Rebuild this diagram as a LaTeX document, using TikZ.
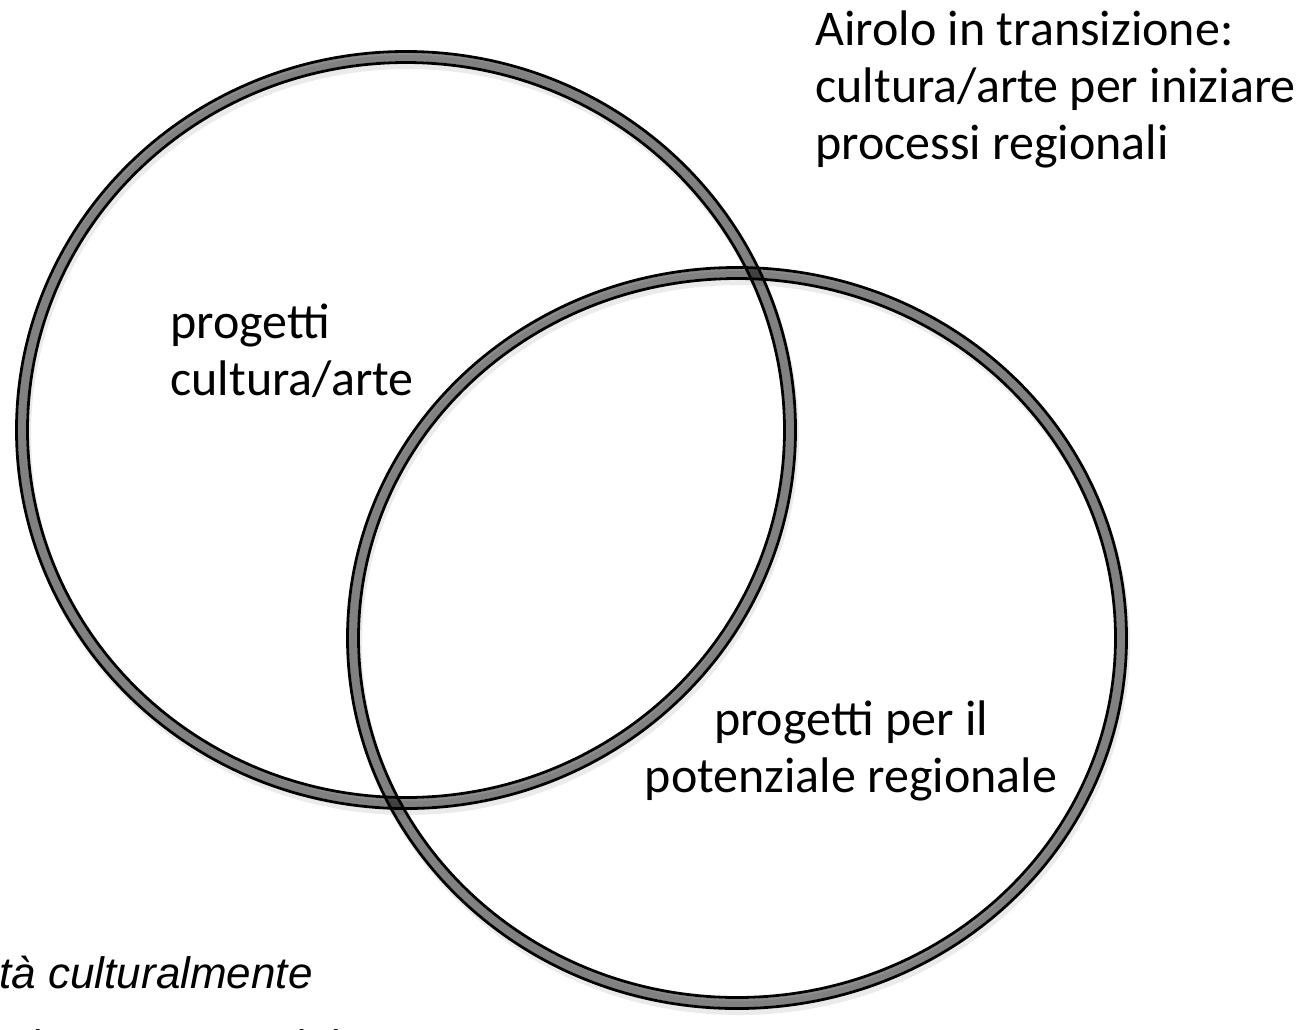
\documentclass[tikz,border=0pt]{standalone}
\usepackage{fontspec}
\setmainfont{Carlito}
\newfontfamily\arialfont{Liberation Sans}

\begin{document}
\begin{tikzpicture}[x=0.5pt,y=-0.5pt]
	\tikzstyle{every node}=[inner sep=0pt,font=\fontsize{25}{28.5}\selectfont]
	\tikzstyle{band}=[line width=4.25pt,draw=black,draw opacity=0.45]
	\tikzstyle{rim}=[line width=1.4pt,draw=black]
	\tikzstyle{shade}=[line width=7pt,draw=black,draw opacity=0.08]
	\tikzstyle{note}=[font=\arialfont\itshape\fontsize{22}{26}\selectfont]
	\useasboundingbox (0,0) rectangle (1299,1029);
	\clip (0,0) rectangle (1299,1029);
	% shadows
	\draw[shade] (408,435) ellipse [x radius=384, y radius=373];
	\draw[shade] (739,643) ellipse [x radius=384, y radius=365];
	% left circle
	\draw[band] (406,430) ellipse [x radius=384, y radius=373];
	\draw[rim] (406,430) ellipse [x radius=389.5, y radius=378.5];
	\draw[rim] (406,430) ellipse [x radius=378.5, y radius=367.5];
	% right circle
	\draw[band] (737,638) ellipse [x radius=384, y radius=365];
	\draw[rim] (737,638) ellipse [x radius=389.5, y radius=370.5];
	\draw[rim] (737,638) ellipse [x radius=378.5, y radius=359.5];
	% texts
	\node (title1) [anchor=base west] at (815,45) {Airolo in transizione:};
	\node (title2) [anchor=base west] at (815,102) {cultura/arte per iniziare};
	\node (title3) [anchor=base west] at (815,159) {processi regionali};
	\node (art1) [anchor=base west] at (170,338) {progetti};
	\node (art2) [anchor=base west] at (170,395) {cultura/arte};
	\node (reg1) [anchor=base] at (851,735) {progetti per il};
	\node (reg2) [anchor=base] at (851,792) {potenziale regionale};
	\node (note1) [note,anchor=base east] at (313,988) {ità culturalmente};
	\node (note2) [note,anchor=base east] at (338,1061) {ia passata e del};
\end{tikzpicture}
\end{document}
